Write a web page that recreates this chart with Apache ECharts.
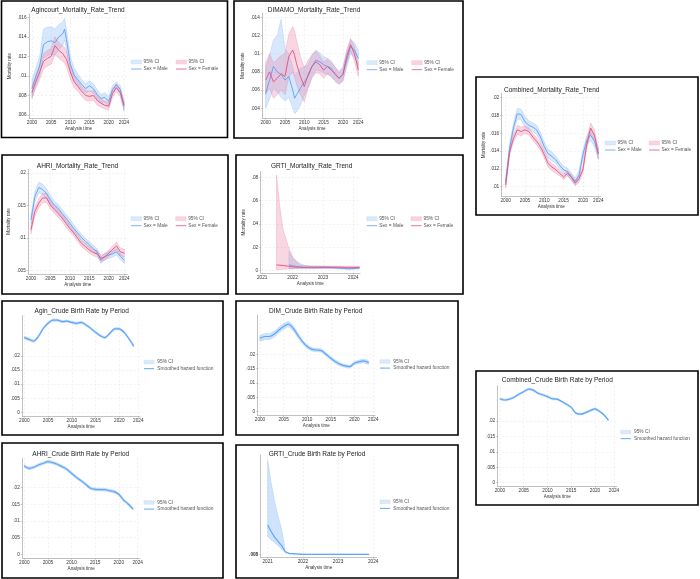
<!DOCTYPE html>
<html><head><meta charset="utf-8">
<script src="https://cdn.jsdelivr.net/npm/echarts@6/dist/echarts.min.js"></script>
<style>html,body{margin:0;padding:0;background:#fff}#c{width:700px;height:579px}</style>
</head><body><div id="c"></div>
<script>
// ---------------- DATA ----------------
const yearTicks = [2000, 2005, 2010, 2015, 2020, 2024];
const grtiTicks = [2021, 2022, 2023, 2024];

// Agincourt mortality
const agYears = [2000,2001,2002,2003,2004,2005,2006,2007,2008,2008.5,2009,2010,2011,2012,2013,2014,2015,2016,2017,2018,2019,2020,2021,2022,2023,2024];
const agMaleEst = [.0087,.0099,.0110,.0132,.0135,.0136,.0134,.0140,.0143,.0148,.0137,.0112,.0101,.0096,.0091,.0087,.0090,.0087,.0081,.0077,.0078,.0074,.0086,.0091,.0086,.0069];
const agMaleHi  = [.0096,.0108,.0120,.0148,.0150,.0150,.0148,.0153,.0155,.0159,.0148,.0120,.0108,.0102,.0096,.0092,.0095,.0092,.0086,.0081,.0083,.0079,.0090,.0094,.0090,.0074];
const agMaleLo  = [.0078,.0090,.0100,.0118,.0121,.0122,.0121,.0127,.0131,.0137,.0126,.0104,.0094,.0090,.0086,.0082,.0085,.0082,.0076,.0073,.0073,.0069,.0082,.0087,.0082,.0064];
const agFemEst  = [.0083,.0094,.0104,.0115,.0118,.0120,.0131,.0126,.0123,.0121,.0117,.0104,.0094,.0089,.0084,.0080,.0079,.0080,.0075,.0072,.0070,.0069,.0082,.0088,.0083,.0070];
const agFemHi   = [.0089,.0101,.0112,.0123,.0126,.0128,.0140,.0134,.0131,.0129,.0125,.0111,.0100,.0094,.0089,.0085,.0084,.0085,.0080,.0076,.0074,.0073,.0086,.0092,.0087,.0075];
const agFemLo   = [.0077,.0087,.0096,.0107,.0110,.0112,.0122,.0118,.0115,.0113,.0109,.0097,.0088,.0084,.0079,.0075,.0074,.0075,.0070,.0068,.0066,.0065,.0078,.0084,.0079,.0065];

// DIMAMO mortality
const dmYears = [2000,2001,2002,2003,2004,2005,2006,2007,2007.5,2008,2009,2010,2011,2012,2013,2014,2015,2016,2017,2018,2019,2020,2021,2022,2023,2024];
const dmMaleEst = [.0057,.0071,.0086,.0080,.0077,.0071,.0075,.0060,.0051,.0055,.0062,.0069,.0075,.0086,.0093,.0091,.0088,.0086,.0084,.0077,.0073,.0077,.0093,.0108,.0104,.0095];
const dmMaleHi  = [.0085,.0098,.0115,.0120,.0138,.0105,.0100,.0086,.0076,.0078,.0084,.0085,.0088,.0098,.0104,.0101,.0097,.0095,.0092,.0085,.0081,.0085,.0101,.0115,.0112,.0104];
const dmMaleLo  = [.0040,.0050,.0062,.0058,.0052,.0048,.0052,.0040,.0034,.0036,.0043,.0054,.0063,.0075,.0082,.0081,.0079,.0077,.0076,.0069,.0066,.0070,.0085,.0100,.0096,.0087];
const dmFemEst  = [.0071,.0080,.0069,.0073,.0078,.0075,.0097,.0104,.0098,.0089,.0075,.0064,.0077,.0086,.0091,.0088,.0082,.0086,.0082,.0078,.0073,.0077,.0097,.0110,.0100,.0082];
const dmFemHi   = [.0090,.0100,.0090,.0094,.0098,.0100,.0122,.0130,.0125,.0115,.0097,.0085,.0093,.0099,.0103,.0098,.0091,.0094,.0090,.0085,.0079,.0084,.0105,.0117,.0108,.0089];
const dmFemLo   = [.0055,.0062,.0051,.0055,.0060,.0055,.0074,.0080,.0074,.0066,.0055,.0047,.0062,.0073,.0079,.0078,.0073,.0078,.0074,.0071,.0067,.0070,.0089,.0103,.0092,.0075];

// Combined & AHRI mortality (yearly)
const yearsFull = [2000,2001,2002,2003,2004,2005,2006,2007,2008,2009,2010,2011,2012,2013,2014,2015,2016,2017,2018,2019,2020,2021,2022,2023,2024];
const cmMaleEst = [.0106,.0143,.0166,.0182,.0181,.0173,.0169,.0167,.0164,.0156,.0145,.0137,.0134,.0130,.0124,.0119,.0117,.0111,.0106,.0113,.0136,.0152,.0158,.0151,.0137];
const cmMaleHi  = [.0110,.0148,.0171,.0188,.0187,.0179,.0174,.0172,.0169,.0161,.0150,.0142,.0139,.0134,.0128,.0123,.0121,.0115,.0110,.0118,.0141,.0157,.0164,.0157,.0143];
const cmMaleLo  = [.0102,.0138,.0161,.0176,.0175,.0167,.0164,.0162,.0159,.0151,.0140,.0132,.0129,.0126,.0120,.0115,.0113,.0107,.0102,.0108,.0131,.0147,.0152,.0145,.0131];
const cmFemEst  = [.0102,.0139,.0154,.0164,.0162,.0164,.0162,.0156,.0151,.0145,.0136,.0126,.0122,.0119,.0115,.0111,.0115,.0111,.0104,.0109,.0119,.0147,.0166,.0158,.0137];
const cmFemHi   = [.0106,.0143,.0158,.0169,.0167,.0168,.0166,.0160,.0155,.0149,.0140,.0130,.0126,.0123,.0118,.0114,.0118,.0114,.0107,.0113,.0123,.0152,.0172,.0164,.0143];
const cmFemLo   = [.0098,.0135,.0150,.0159,.0157,.0160,.0158,.0152,.0147,.0141,.0132,.0122,.0118,.0115,.0112,.0108,.0112,.0108,.0101,.0105,.0115,.0142,.0160,.0152,.0131];

const ahMaleEst = [.0128,.0164,.0178,.0175,.0169,.0159,.0151,.0146,.0138,.0131,.0123,.0115,.0108,.0101,.0095,.0090,.0084,.0079,.0066,.0072,.0074,.0076,.0079,.0072,.0066];
const ahMaleHi  = [.0134,.0172,.0186,.0183,.0176,.0166,.0157,.0152,.0144,.0137,.0129,.0121,.0113,.0106,.0100,.0095,.0089,.0084,.0071,.0077,.0079,.0081,.0084,.0077,.0071];
const ahMaleLo  = [.0122,.0156,.0170,.0167,.0162,.0152,.0145,.0140,.0132,.0125,.0117,.0109,.0103,.0096,.0090,.0085,.0079,.0074,.0061,.0067,.0069,.0071,.0074,.0067,.0061];
const ahFemEst  = [.0113,.0141,.0154,.0162,.0162,.0151,.0144,.0138,.0131,.0123,.0115,.0108,.0100,.0092,.0087,.0082,.0078,.0076,.0069,.0071,.0077,.0083,.0088,.0079,.0077];
const ahFemHi   = [.0119,.0148,.0161,.0169,.0169,.0157,.0150,.0144,.0137,.0129,.0120,.0113,.0105,.0097,.0092,.0087,.0083,.0081,.0074,.0076,.0082,.0088,.0094,.0085,.0083];
const ahFemLo   = [.0107,.0134,.0147,.0155,.0155,.0145,.0138,.0132,.0125,.0117,.0110,.0103,.0095,.0087,.0082,.0077,.0073,.0071,.0064,.0066,.0072,.0078,.0082,.0073,.0071];

// GRTI mortality
const grFemYears = [2021.47,2021.58,2021.69,2021.86,2022.02,2022.24,2022.5,2023,2023.5,2024,2024.2];
const grFemEst = [.0050,.0047,.0044,.0038,.0032,.0030,.0030,.0031,.0030,.0028,.0029];
const grFemHi  = [.0820,.0550,.0350,.0210,.0106,.0049,.0042,.0040,.0039,.0038,.0038];
const grFemLo  = [.0008,.0010,.0012,.0015,.0018,.0020,.0022,.0022,.0021,.0019,.0020];
const grMaleYears = [2021.88,2021.95,2022.05,2022.2,2022.4,2022.7,2023,2023.3,2023.6,2023.85,2024.2];
const grMaleEst = [.0050,.0045,.0040,.0033,.0027,.0025,.0027,.0026,.0022,.0016,.0022];
const grMaleHi  = [.0165,.0130,.0100,.0068,.0045,.0036,.0036,.0034,.0030,.0024,.0030];
const grMaleLo  = [.0015,.0015,.0016,.0016,.0016,.0017,.0019,.0018,.0014,.0010,.0015];

// Crude birth rates
const birthYears = [2000,2001,2002,2003,2004,2005,2006,2007,2008,2009,2010,2011,2012,2013,2014,2015,2016,2017,2018,2019,2020,2021,2022,2023];
const agbEst = [.0265,.0259,.0253,.0270,.0298,.0316,.0327,.0327,.0322,.0324,.0319,.0316,.0319,.0310,.0298,.0284,.0272,.0265,.0280,.0296,.0296,.0284,.0262,.0236];
const agbHi  = [.0270,.0264,.0258,.0275,.0302,.0320,.0331,.0331,.0326,.0328,.0323,.0320,.0323,.0314,.0302,.0288,.0276,.0269,.0284,.0300,.0300,.0288,.0266,.0241];
const agbLo  = [.0260,.0254,.0248,.0265,.0294,.0312,.0323,.0323,.0318,.0320,.0315,.0312,.0315,.0306,.0294,.0280,.0268,.0261,.0276,.0292,.0292,.0280,.0258,.0231];
const dmbEst = [.0256,.0262,.0262,.0270,.0285,.0297,.0305,.0291,.0267,.0244,.0227,.0217,.0215,.0213,.0200,.0186,.0174,.0165,.0160,.0157,.0169,.0174,.0177,.0171];
const dmbHi  = [.0266,.0272,.0272,.0280,.0295,.0307,.0314,.0300,.0275,.0251,.0233,.0223,.0221,.0219,.0206,.0192,.0180,.0171,.0165,.0162,.0174,.0180,.0183,.0177];
const dmbLo  = [.0246,.0252,.0252,.0260,.0275,.0287,.0296,.0282,.0259,.0237,.0221,.0211,.0209,.0207,.0194,.0180,.0168,.0159,.0155,.0152,.0164,.0168,.0171,.0165];
const ahbEst = [.0265,.0258,.0261,.0268,.0273,.0278,.0275,.0270,.0263,.0255,.0243,.0231,.0221,.0210,.0198,.0195,.0194,.0194,.0191,.0188,.0180,.0163,.0151,.0136];
const ahbHi  = [.0269,.0262,.0265,.0272,.0277,.0282,.0279,.0274,.0267,.0259,.0247,.0235,.0225,.0214,.0202,.0199,.0198,.0198,.0195,.0192,.0184,.0167,.0155,.0140];
const ahbLo  = [.0261,.0254,.0257,.0264,.0269,.0274,.0271,.0266,.0259,.0251,.0239,.0227,.0217,.0206,.0194,.0191,.0190,.0190,.0187,.0184,.0176,.0159,.0147,.0132];
const cbYears = [2000,2001,2002,2003,2004,2005,2006,2007,2008,2009,2010,2011,2012,2013,2014,2015,2016,2017,2018,2019,2020,2021,2022,2022.8];
const cbEst = [.0272,.0268,.0271,.0277,.0287,.0295,.0303,.0300,.0290,.0285,.0279,.0272,.0271,.0263,.0254,.0244,.0225,.0222,.0227,.0234,.0239,.0231,.0218,.0203];
const cbHi  = [.0275,.0271,.0274,.0280,.0290,.0298,.0306,.0303,.0293,.0288,.0282,.0275,.0274,.0266,.0257,.0247,.0228,.0225,.0230,.0237,.0242,.0234,.0221,.0206];
const cbLo  = [.0269,.0265,.0268,.0274,.0284,.0292,.0300,.0297,.0287,.0282,.0276,.0269,.0268,.0260,.0251,.0241,.0222,.0219,.0224,.0231,.0236,.0228,.0215,.0200];
const gbYears = [2021,2021.1,2021.2,2021.3,2021.4,2021.45,2021.5,2021.6,2021.8,2022,2022.5,2023,2023.5,2023.88];
const gbEst = [.0227,.0193,.0165,.0143,.0122,.0112,.0093,.0085,.0082,.0080,.0080,.0080,.0080,.0080];
const gbHi  = [.0548,.0435,.0343,.0268,.0202,.0155,.0095,.0087,.0083,.0081,.0081,.0081,.0081,.0081];
const gbLo  = [.0168,.0152,.0138,.0122,.0105,.0097,.0088,.0083,.0081,.0079,.0079,.0079,.0079,.0079];

// ---------------- STYLE / LAYOUT ----------------
const FONT = 'Liberation Sans, Arial, Helvetica, sans-serif';
const C = {
  mLine:'#5d9ff2', mFill:'rgba(125,178,246,0.30)', mEdge:'rgba(110,168,244,0.55)', mKey:'#dbe9fb', mKeyEdge:'#c3daf8',
  fLine:'#e3507f', fFill:'rgba(236,124,160,0.30)', fEdge:'rgba(228,110,150,0.55)', fKey:'#f9d3de', fKeyEdge:'#f2bccc',
  bLine:'#5ea6f6', bFill:'rgba(130,183,246,0.38)', bEdge:'rgba(120,175,245,0.6)'
};
const M = 'mort', B = 'birth';
const panels = [
  {title:'Agincourt_Mortality_Rate_Trend', t:[78,10.7], box:[1.5,1,226,136.5], g:[29,14,99,104.2], xr:[1999.22,2025.04], yr:[.00567,.01634], xt:yearTicks, yt:[.006,.008,.01,.012,.014,.016], kind:M, yGap:17, leg:[131,60,176],
   s:[{x:agYears,e:agMaleEst,lo:agMaleLo,hi:agMaleHi,sex:'m'},{x:agYears,e:agFemEst,lo:agFemLo,hi:agFemHi,sex:'f'}]},
  {title:'DIMAMO_Mortality_Rate_Trend', t:[314,10], box:[234,1,229,137], g:[262.3,13.3,99.4,104.9], xr:[1999.12,2024.88], yr:[.00291,.01444], xt:yearTicks, yt:[.004,.006,.008,.01,.012,.014], kind:M, yGap:17, leg:[366.7,60.7,411.7],
   s:[{x:dmYears,e:dmMaleEst,lo:dmMaleLo,hi:dmMaleHi,sex:'m'},{x:dmYears,e:dmFemEst,lo:dmFemLo,hi:dmFemHi,sex:'f'}]},
  {title:'Combined_Mortality_Rate_Trend', t:[551.7,90], box:[476,77,222,138], g:[501.7,93.3,99,103.2], xr:[1998.96,2024.62], yr:[.0089,.0205], xt:yearTicks, yt:[.01,.012,.014,.016,.018,.02], kind:M, yGap:15.5, leg:[605,141,649],
   s:[{x:yearsFull,e:cmMaleEst,lo:cmMaleLo,hi:cmMaleHi,sex:'m'},{x:yearsFull,e:cmFemEst,lo:cmFemLo,hi:cmFemHi,sex:'f'}]},
  {title:'AHRI_Mortality_Rate_Trend', t:[77.5,166], box:[2,155,226,139], g:[28.3,169.3,99,104.5], xr:[1999.31,2024.77], yr:[.00452,.0206], xt:yearTicks, yt:[.005,.01,.015,.02], kind:M, yGap:17, leg:[131,216.7,175.7],
   s:[{x:yearsFull,e:ahMaleEst,lo:ahMaleLo,hi:ahMaleHi,sex:'m'},{x:yearsFull,e:ahFemEst,lo:ahFemLo,hi:ahFemHi,sex:'f'}]},
  {title:'GRTI_Mortality_Rate_Trend', t:[311.7,166], box:[236,155,227,139], g:[260.7,171.7,99.3,101.1], xr:[2020.95,2024.22], yr:[-.0018,.0848], xt:grtiTicks, yt:[0,.02,.04,.06,.08], kind:M, yGap:14.5, leg:[366.7,216.7,411],
   s:[{x:grMaleYears,e:grMaleEst,lo:grMaleLo,hi:grMaleHi,sex:'m'},{x:grFemYears,e:grFemEst,lo:grFemLo,hi:grFemHi,sex:'f'}]},
  {title:'Agin_Crude Birth Rate by Period', t:[81.7,311], box:[2,301,221,134], g:[22.3,315.7,117.7,100.5], xr:[1999.58,2024.36], yr:[-.00139,.0343], xt:yearTicks, yt:[0,.005,.01,.015,.02], kind:B, leg:[144,360.3],
   s:[{x:birthYears,e:agbEst,lo:agbLo,hi:agbHi,smooth:true}]},
  {title:'DIM_Crude Birth Rate by Period', t:[315.7,311], box:[236,301,222,134], g:[257.7,315,117.3,100.5], xr:[1999.51,2024.36], yr:[-.00132,.0337], xt:yearTicks, yt:[0,.005,.01,.015,.02], kind:B, leg:[380,359.7],
   s:[{x:birthYears,e:dmbEst,lo:dmbLo,hi:dmbHi,smooth:true}]},
  {title:'Combined_Crude Birth Rate by Period', t:[557.3,380], box:[476,371,222,134], g:[497.7,385.7,119,100.8], xr:[1999.52,2024.57], yr:[-.00123,.03144], xt:yearTicks, yt:[0,.005,.01,.015,.02], kind:B, leg:[620.7,430.3],
   s:[{x:cbYears,e:cbEst,lo:cbLo,hi:cbHi,smooth:true}]},
  {title:'AHRI_Crude Birth Rate by Period', t:[80.7,454], box:[2,443,221,135], g:[22.3,458.3,117.7,99.9], xr:[1999.58,2024.49], yr:[-.00117,.0288], xt:yearTicks, yt:[0,.005,.01,.015,.02], kind:B, leg:[144,500.7],
   s:[{x:birthYears,e:ahbEst,lo:ahbLo,hi:ahbHi,smooth:true}]},
  {title:'GRTI_Crude Birth Rate by Period', t:[317,454], box:[236,445,222,133], g:[260.7,455,116,102.2], xr:[2020.8,2024.1], yr:[.00655,.0577], xt:grtiTicks, yt:[.008], kind:B, yBold:true, leg:[380,500],
   s:[{x:gbYears,e:gbEst,lo:gbLo,hi:gbHi,smooth:false}]}
];

function yFmt(v){ if (Math.abs(v) < 1e-12) return '0'; return String(+v.toFixed(4)).replace(/^0\./,'.').replace(/^-0\./,'-.'); }
function txt(x,y,s,size,fill,align,extra){
  return Object.assign({type:'text', x:x, y:y, silent:true, z:50,
    style:{text:s, fontSize:size, fontFamily:FONT, fill:fill, textAlign:align||'left', textVerticalAlign:'middle', align:align||'left', verticalAlign:'middle'}}, extra||{});
}

const grid=[], xAxis=[], yAxis=[], series=[], elements=[];
const axisCol = '#a8a8a8', gridCol = '#e4e4e4', labCol = '#333';
panels.forEach((p,i)=>{
  grid.push({left:p.g[0], top:p.g[1], width:p.g[2], height:p.g[3]});
  xAxis.push({type:'value', gridIndex:i, min:p.xr[0], max:p.xr[1],
    name:'Analysis time', nameLocation:'middle', nameGap:7.7, nameTextStyle:{fontSize:4.6, fontFamily:FONT, color:labCol},
    axisLine:{show:true, onZero:false, lineStyle:{color:axisCol, width:0.7}},
    axisTick:{show:true, length:1.5, customValues:p.xt, lineStyle:{color:axisCol, width:0.6}},
    axisLabel:{customValues:p.xt, fontSize:4.7, fontFamily:FONT, color:labCol, margin:2.2, formatter:v=>String(Math.round(v))},
    splitLine:{show:true, lineStyle:{color:gridCol, width:0.5, type:[2,2]}}});
  yAxis.push({type:'value', gridIndex:i, min:p.yr[0], max:p.yr[1],
    name: p.kind===M ? 'Mortality rate' : '', nameLocation:'middle', nameGap:p.yGap||15, nameTextStyle:{fontSize:4.6, fontFamily:FONT, color:labCol},
    axisLine:{show:true, onZero:false, lineStyle:{color:axisCol, width:0.7}},
    axisTick:{show:true, length:1.5, customValues:p.yt, lineStyle:{color:axisCol, width:0.6}},
    axisLabel:{customValues:p.yt, fontSize:4.7, fontFamily:FONT, color:labCol, margin:2.5, fontWeight:p.yBold?'bold':'normal', formatter:yFmt},
    splitLine:{show:true, lineStyle:{color:gridCol, width:0.5, type:[2,2]}}});

  // confidence bands
  p.s.forEach(s=>{
    const fill = p.kind===B ? C.bFill : (s.sex==='m' ? C.mFill : C.fFill);
    const edge = p.kind===B ? C.bEdge : (s.sex==='m' ? C.mEdge : C.fEdge);
    const rows = s.x.map((x,k)=>[x, s.lo[k], s.hi[k]]);
    series.push({type:'custom', xAxisIndex:i, yAxisIndex:i, silent:true, z:2, data:rows, encode:{x:0, y:[1,2]},
      renderItem:(params, api)=>{
        if (params.dataIndex !== 0) return null;
        const top = rows.map(r=>api.coord([r[0], r[2]]));
        const bot = rows.map(r=>api.coord([r[0], r[1]])).reverse();
        return {type:'polygon', shape:{points:top.concat(bot), smooth: s.smooth ? 0.2 : 0}, style:{fill:fill, stroke:edge, lineWidth:0.45}};
      }});
  });
  // point estimates
  p.s.forEach(s=>{
    const col = p.kind===B ? C.bLine : (s.sex==='m' ? C.mLine : C.fLine);
    series.push({type:'line', xAxisIndex:i, yAxisIndex:i, silent:true, z:4, showSymbol:false, symbol:'none',
      smooth: s.smooth ? 0.3 : false, data:s.x.map((x,k)=>[x, s.e[k]]),
      lineStyle:{color:col, width: p.kind===B ? 1.2 : 0.9}});
  });

  // frame, title
  elements.push({type:'rect', silent:true, z:60, shape:{x:p.box[0], y:p.box[1], width:p.box[2], height:p.box[3]}, style:{fill:'none', stroke:'#000', lineWidth:1.6}});
  elements.push(txt(p.t[0], p.t[1], p.title, 6.5, '#222', 'center'));

  // legend
  const L = p.leg;
  if (p.kind===M){
    elements.push({type:'rect', silent:true, z:50, shape:{x:L[0], y:L[1], width:10.5, height:4}, style:{fill:C.mKey, stroke:C.mKeyEdge, lineWidth:0.4}});
    elements.push({type:'line', silent:true, z:50, shape:{x1:L[0], y1:L[1]+9, x2:L[0]+10.5, y2:L[1]+9}, style:{stroke:C.mLine, lineWidth:0.8}});
    elements.push(txt(L[0]+12.5, L[1]+2, '95% CI', 4.8, '#555'));
    elements.push(txt(L[0]+12.5, L[1]+9, 'Sex = Male', 4.8, '#555'));
    elements.push({type:'rect', silent:true, z:50, shape:{x:L[2], y:L[1], width:10.5, height:4}, style:{fill:C.fKey, stroke:C.fKeyEdge, lineWidth:0.4}});
    elements.push({type:'line', silent:true, z:50, shape:{x1:L[2], y1:L[1]+9, x2:L[2]+10.5, y2:L[1]+9}, style:{stroke:C.fLine, lineWidth:0.8}});
    elements.push(txt(L[2]+12.5, L[1]+2, '95% CI', 4.8, '#555'));
    elements.push(txt(L[2]+12.5, L[1]+9, 'Sex = Female', 4.8, '#555'));
  } else {
    elements.push({type:'rect', silent:true, z:50, shape:{x:L[0], y:L[1], width:10, height:3.6}, style:{fill:C.mKey, stroke:C.mKeyEdge, lineWidth:0.4}});
    elements.push({type:'line', silent:true, z:50, shape:{x1:L[0], y1:L[1]+8.4, x2:L[0]+10, y2:L[1]+8.4}, style:{stroke:C.bLine, lineWidth:1}});
    elements.push(txt(L[0]+13.3, L[1]+1.8, '95% CI', 4.8, '#555'));
    elements.push(txt(L[0]+13.3, L[1]+8.4, 'Smoothed hazard function', 4.8, '#555'));
  }
});

const chart = echarts.init(document.getElementById('c'), null, {renderer:'canvas'});
chart.setOption({backgroundColor:'#fff', animation:false, grid, xAxis, yAxis, series, graphic:{elements}});
</script></body></html>
